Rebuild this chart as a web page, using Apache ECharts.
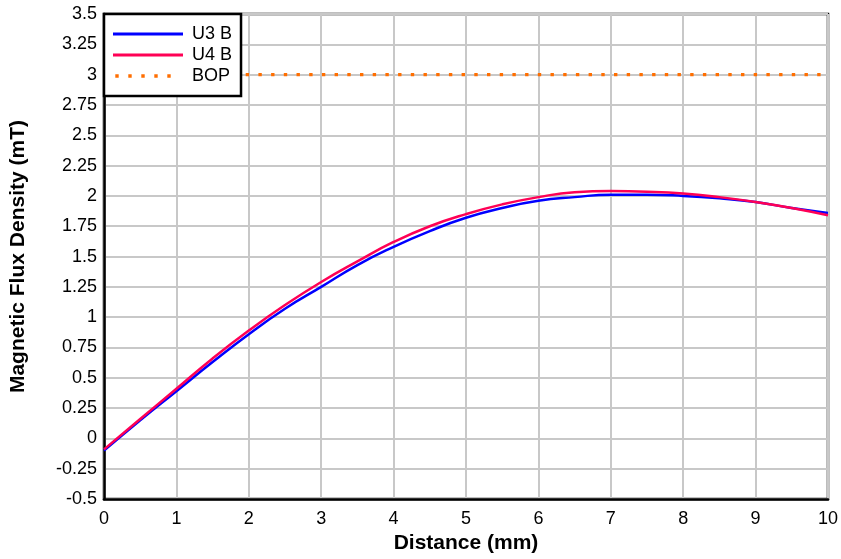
<!DOCTYPE html>
<html><head><meta charset="utf-8">
<script src="https://cdn.jsdelivr.net/npm/echarts@6/dist/echarts.min.js"></script>
<style>html,body{margin:0;padding:0;background:#fff}#c{width:841px;height:559px}</style>
</head><body><div id="c"></div>
<script>
const distance = [0,0.5,1,1.5,2,2.5,3,3.5,4,4.5,5,5.5,6,6.5,7,7.5,8,8.5,9,9.5,10];
const u3b = [-0.1,0.15,0.39,0.63,0.86,1.07,1.25,1.43,1.58,1.71,1.82,1.90,1.96,1.99,2.01,2.01,2.0,1.98,1.95,1.90,1.86];
const u4b = [-0.09,0.16,0.41,0.66,0.89,1.10,1.29,1.46,1.62,1.75,1.85,1.93,1.99,2.03,2.04,2.035,2.02,1.99,1.95,1.90,1.84];
const bop = [3,3];
const bopX = [0,10];
const names = ['U3 B','U4 B','BOP'];

const font = 'Liberation Sans, Arial, sans-serif';
const corners = 'M0,0L0.01,0L0,0.01Z M74,3.4L73.99,3.4L74,3.39Z ';
const lineIcon = 'path://' + corners + 'M0,0.2H70V3.2H0Z';
const dotIcon = 'path://' + corners + 'M2.3,0h3.4v3.4h-3.4Z M15.3,0h3.4v3.4h-3.4Z M28.3,0h3.4v3.4h-3.4Z M41.3,0h3.4v3.4h-3.4Z M54.3,0h3.4v3.4h-3.4Z';
const chart = echarts.init(document.getElementById('c'), null, {renderer:'canvas'});
chart.setOption({
  animation:false,
  textStyle:{fontFamily:font},
  grid:{left:104,right:12,top:14,bottom:56,show:true,borderColor:'#000',borderWidth:2.5},
  xAxis:{type:'value',min:0,max:10,interval:1,name:'Distance (mm)',nameLocation:'middle',nameGap:33,
    nameTextStyle:{fontSize:21,fontWeight:'bold',color:'#000',fontFamily:font},
    axisLine:{onZero:false,lineStyle:{color:'#000',width:2.5}},axisTick:{show:false},
    axisLabel:{fontSize:18,color:'#000',margin:11,fontFamily:font},
    splitLine:{lineStyle:{color:'#c8c8c8',width:2}}},
  yAxis:{type:'value',min:-0.5,max:3.5,interval:0.25,name:'Magnetic Flux Density (mT)',nameLocation:'middle',nameGap:75,
    nameTextStyle:{fontSize:21,fontWeight:'bold',color:'#000',fontFamily:font},
    axisLine:{show:true,lineStyle:{color:'#000',width:2.5}},axisTick:{show:false},
    axisLabel:{fontSize:18,color:'#000',margin:7,fontFamily:font},
    splitLine:{lineStyle:{color:'#c8c8c8',width:2}}},
  legend:{orient:'vertical',left:104,top:14,itemWidth:74,itemHeight:3.4,itemGap:3,
    padding:[11,9,11,9],backgroundColor:'#fff',borderColor:'#000',borderWidth:2.5,
    textStyle:{fontSize:18,color:'#000',fontFamily:font},
    data:[{name:names[0],icon:lineIcon},{name:names[1],icon:lineIcon},{name:names[2],icon:dotIcon}]},
  series:[
    {name:names[0],type:'line',data:distance.map((d,i)=>[d,u3b[i]]),smooth:true,symbol:'none',
      lineStyle:{color:'#0000ff',width:2.5},itemStyle:{color:'#0000ff'},z:3},
    {name:names[1],type:'line',data:distance.map((d,i)=>[d,u4b[i]]),smooth:true,symbol:'none',
      lineStyle:{color:'#ff0055',width:2.5},itemStyle:{color:'#ff0055'},z:4},
    {name:names[2],type:'line',data:bopX.map((d,i)=>[d,bop[i]]),symbol:'none',
      lineStyle:{color:'#ff6e00',width:3.4,type:[3.4,9.3],dashOffset:-2},itemStyle:{color:'#ff6e00'},z:2}
  ]
});
</script></body></html>
